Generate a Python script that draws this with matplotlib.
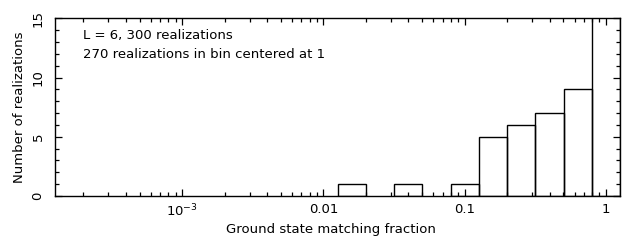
import numpy as np
import matplotlib
matplotlib.use("Agg")
import matplotlib.pyplot as plt
from matplotlib.ticker import FixedLocator, LogLocator, MultipleLocator, NullFormatter, FixedFormatter

# Data: histogram bins in log10(fraction), width 0.2 decades
bin_centers_log = [-1.8, -1.4, -1.0, -0.8, -0.6, -0.4, -0.2, 0.0]
counts = [1, 1, 1, 5, 6, 7, 9, 270]
bin_width_log = 0.2
xticks = [1e-3, 1e-2, 1e-1, 1]
xticklabels = [r"$10^{-3}$", "0.01", "0.1", "1"]
yticks = [0, 5, 10, 15]

plt.rcParams['font.family'] = ['DejaVu Sans']

fig = plt.figure(figsize=(6.23, 2.49), dpi=100)
ax = fig.add_axes([55/623, 1-196/249, 565/623, (196-18.3)/249])

c = np.array(bin_centers_log)
lefts = 10**(c - bin_width_log/2)
rights = 10**(c + bin_width_log/2)
ax.bar(lefts, counts, width=rights-lefts, align='edge', fill=False,
       edgecolor='black', linewidth=1.0)

ax.set_xscale('log')
ax.set_xlim(10**-3.9, 10**0.1)
ax.set_ylim(0, 15)

ax.xaxis.set_major_locator(FixedLocator(xticks))
ax.xaxis.set_major_formatter(FixedFormatter(xticklabels))
ax.xaxis.set_minor_locator(LogLocator(base=10, subs=np.arange(2, 10), numticks=20))
ax.xaxis.set_minor_formatter(NullFormatter())
ax.yaxis.set_major_locator(FixedLocator(yticks))
ax.yaxis.set_minor_locator(MultipleLocator(1))

ax.tick_params(which='both', direction='in', top=True, right=True, labelsize=9.5, width=0.9)
ax.tick_params(which='major', length=5)
ax.tick_params(which='minor', length=2.6)
ax.tick_params(axis='x', pad=5)
ax.tick_params(axis='y', pad=7.5)
for lab in ax.get_yticklabels():
    lab.set_rotation(90)
    lab.set_va('center')

for s in ax.spines.values():
    s.set_linewidth(1.0)

ax.set_xlabel("Ground state matching fraction", fontsize=9.5)
ax.xaxis.set_label_coords((331-55)/565, (196-223)/177.7)
ax.set_ylabel("Number of realizations", fontsize=9.5, labelpad=4.2)

ax.text(83/623, 1-39/249, "L = 6, 300 realizations", transform=fig.transFigure, fontsize=9.5, va='baseline')
ax.text(83/623, 1-58/249, "270 realizations in bin centered at 1", transform=fig.transFigure, fontsize=9.5, va='baseline')

fig.savefig("out.png", dpi=100)
